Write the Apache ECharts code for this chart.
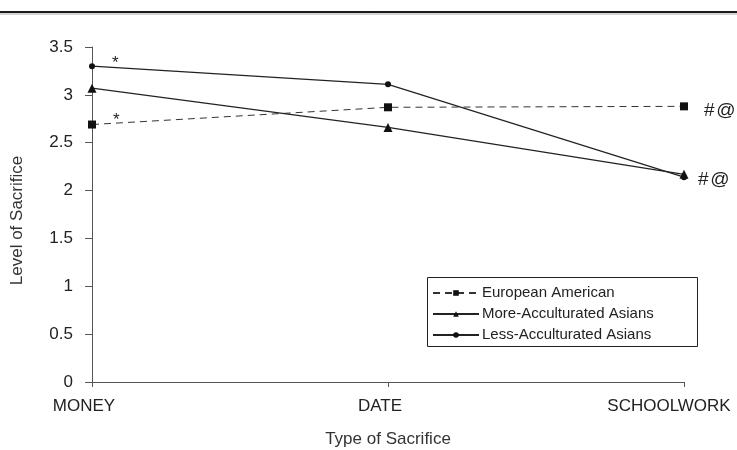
<!DOCTYPE html>
<html><head><meta charset="utf-8">
<script src="https://cdn.jsdelivr.net/npm/echarts@6/dist/echarts.min.js"></script>
<style>html,body{margin:0;padding:0;background:#fff}#c{width:737px;height:450px}</style>
</head><body><div id="c"></div>
<script>
var categories = ['MONEY', 'DATE', 'SCHOOLWORK'];
var europeanAmerican = [2.69, 2.87, 2.88];
var moreAcculturated = [3.07, 2.66, 2.17];
var lessAcculturated = [3.30, 3.11, 2.14];
var yTicks = [0, 0.5, 1, 1.5, 2, 2.5, 3, 3.5];
var seriesNames = ['European American', 'More-Acculturated Asians', 'Less-Acculturated Asians'];

var font = 'Liberation Sans, Arial, sans-serif';
function lbl(text, offset, size) {
  return { show: true, formatter: text, position: 'right', offset: offset,
    color: '#222', fontSize: size, fontFamily: font };
}
var eaData = europeanAmerican.slice();
eaData[0] = { value: europeanAmerican[0], label: lbl('*', [12, -4], 17) };
eaData[2] = { value: europeanAmerican[2], label: lbl('#\u200a@', [11, 4], 19) };
var laData = lessAcculturated.slice();
laData[0] = { value: lessAcculturated[0], label: lbl('*', [12, -3], 17) };
laData[2] = { value: lessAcculturated[2], label: lbl('#\u200a@', [6, 3], 19) };

var catData = categories.map(function (c, i) {
  return { value: c, textStyle: { padding: i === categories.length - 1 ? [0, 30, 0, 0] : [0, 16, 0, 0] } };
});

var chart = echarts.init(document.getElementById('c'));
chart.setOption({
  animation: false,
  textStyle: { fontFamily: font },
  graphic: [
    { type: 'line', shape: { x1: 0, y1: 12, x2: 737, y2: 12 }, style: { stroke: '#1a1a1a', lineWidth: 2 } },
    { type: 'line', shape: { x1: 0, y1: 14, x2: 737, y2: 14 }, style: { stroke: '#aaa', lineWidth: 1 } },
    { type: 'rect', shape: { x: 427.5, y: 277.5, width: 270, height: 69 }, style: { fill: 'none', stroke: '#222', lineWidth: 1 }, z: 10 }
  ],
  grid: { left: 92, right: 53, top: 47, bottom: 68, containLabel: false, outerBoundsMode: 'none' },
  legend: {
    orient: 'vertical', left: 428, top: 283,
    data: seriesNames,
    itemWidth: 46, itemHeight: 7, itemGap: 5,
    padding: [2, 4, 2, 4],
    textStyle: { fontSize: 15, lineHeight: 16, color: '#222', fontFamily: font, padding: [0, 0, 0, -2] }
  },
  xAxis: {
    type: 'category', data: catData, boundaryGap: false,
    name: 'Type of Sacrifice', nameLocation: 'middle', nameGap: 49,
    nameTextStyle: { fontSize: 17, color: '#333' },
    axisLine: { lineStyle: { color: '#555', width: 1 } },
    axisTick: { show: true, alignWithLabel: true, length: 5, lineStyle: { color: '#555' } },
    axisLabel: { fontSize: 17, color: '#222', margin: 16 }
  },
  yAxis: {
    type: 'value', min: 0, max: 3.5, interval: 0.5,
    name: 'Level of Sacrifice', nameLocation: 'middle', nameGap: 66, nameRotate: 90,
    nameTextStyle: { fontSize: 17, color: '#333', padding: [0, 12, 0, 0] },
    axisLine: { show: true, lineStyle: { color: '#555', width: 1 } },
    axisTick: { show: true, length: 7, lineStyle: { color: '#555' } },
    splitLine: { show: false },
    axisLabel: { fontSize: 17, color: '#222', margin: 19,
      formatter: function (v) { return yTicks.indexOf(v) >= 0 ? String(v) : ''; } }
  },
  series: [
    { name: seriesNames[0], type: 'line', data: eaData, symbol: 'rect', symbolSize: 8,
      lineStyle: { color: '#333', width: 1, type: [7, 5] }, itemStyle: { color: '#111' } },
    { name: seriesNames[1], type: 'line', data: moreAcculturated, symbol: 'triangle', symbolSize: 9,
      lineStyle: { color: '#222', width: 1.2 }, itemStyle: { color: '#111' } },
    { name: seriesNames[2], type: 'line', data: laData, symbol: 'circle', symbolSize: 6,
      lineStyle: { color: '#222', width: 1.2 }, itemStyle: { color: '#111' } }
  ]
});
</script></body></html>
